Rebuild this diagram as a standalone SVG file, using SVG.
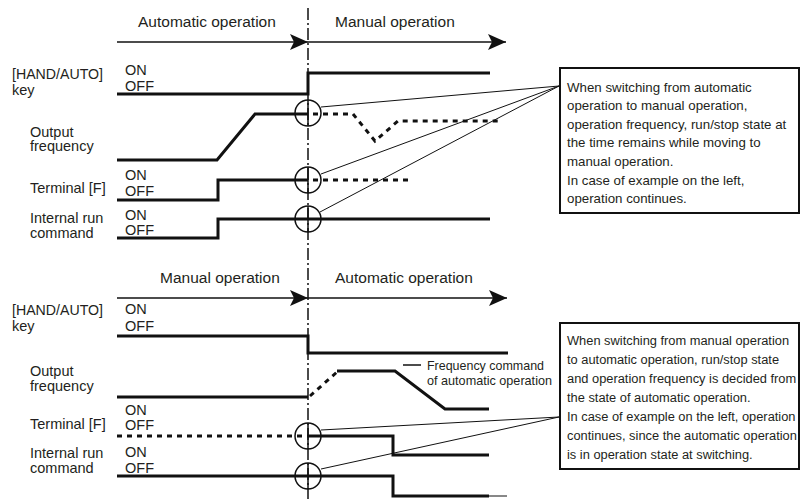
<svg xmlns="http://www.w3.org/2000/svg" width="800" height="499" viewBox="0 0 800 499">
<style>
text{font-family:"Liberation Sans",Arial,sans-serif;fill:#231f20}
.hd{font-size:15.5px}
.lb{font-size:14.5px}
.oo{font-size:14.5px}
.bx{font-size:13.3px}
.bx2{font-size:12.85px}
.fc{font-size:13.5px}
.wave{fill:none;stroke:#111;stroke-width:3;stroke-linejoin:miter}
.dot{fill:none;stroke:#111;stroke-width:3;stroke-dasharray:5 5}
.axis{fill:none;stroke:#111;stroke-width:1.5}
.lead{fill:none;stroke:#111;stroke-width:1}
.circ{fill:none;stroke:#111;stroke-width:1.5}
.box{fill:#fff;stroke:#111;stroke-width:2}
</style>
<defs>
<marker id="ah" markerWidth="20" markerHeight="18" refX="18" refY="8" orient="auto" markerUnits="userSpaceOnUse">
<path d="M0,0 L18,8 L0,16 L4,8 Z" fill="#111"/>
</marker>
</defs>

<!-- vertical switching line -->
<line x1="308" y1="8" x2="308" y2="499" stroke="#111" stroke-width="1.5" stroke-dasharray="12 3 2 3"/>

<!-- top section headings -->
<g id="top-headings">
<text class="hd" x="138" y="27">Automatic operation</text>
<text class="hd" x="335" y="27">Manual operation</text>
</g>
<g id="top-arrow">
<line class="axis" x1="117" y1="42" x2="308" y2="42" marker-end="url(#ah)"/>
<line class="axis" x1="308" y1="42" x2="506" y2="42" marker-end="url(#ah)"/>
</g>

<!-- top labels -->
<g id="top-labels">
<text class="lb" x="12" y="79" textLength="91" lengthAdjust="spacingAndGlyphs">[HAND/AUTO]</text>
<text class="lb" x="12" y="95">key</text>
<text class="oo" x="125" y="75">ON</text>
<text class="oo" x="125" y="90.5">OFF</text>
<text class="lb" x="30" y="136.5">Output</text>
<text class="lb" x="30" y="151">frequency</text>
<text class="lb" x="30" y="193">Terminal [F]</text>
<text class="oo" x="125" y="180">ON</text>
<text class="oo" x="125" y="196">OFF</text>
<text class="lb" x="30" y="223">Internal run</text>
<text class="lb" x="30" y="238">command</text>
<text class="oo" x="125" y="220">ON</text>
<text class="oo" x="125" y="235">OFF</text>
</g>

<!-- top waveforms -->
<g id="top-waves">
<polyline class="wave" points="117,94 308,94 308,73 490,73"/>
<polyline class="wave" points="117,160 217,160 255,114 308,114"/>
<polyline class="dot" points="313,114 353,114 375,141 398,121 498,121"/>
<polyline class="wave" points="117,200 218,200 218,180 308,180"/>
<polyline class="dot" points="313,180 410,180"/>
<polyline class="wave" points="117,238 218,238 218,219 490,219"/>
</g>

<!-- top circles -->
<g id="top-circles">
<circle class="circ" cx="308" cy="113" r="13"/>
<circle class="circ" cx="308" cy="180" r="13"/>
<circle class="circ" cx="308" cy="219" r="13"/>
<line class="axis" x1="308" y1="100" x2="308" y2="126"/>
<line class="axis" x1="308" y1="167" x2="308" y2="193"/>
<line class="axis" x1="308" y1="206" x2="308" y2="232"/>
</g>

<!-- top leaders -->
<g id="top-leaders">
<line class="lead" x1="321" y1="107" x2="559" y2="86"/>
<line class="lead" x1="321" y1="174" x2="559" y2="86"/>
<line class="lead" x1="320" y1="212" x2="559" y2="86"/>
</g>

<!-- top note box -->
<g id="top-note">
<rect class="box" x="560" y="68" width="239" height="145"/>
<text class="bx" x="567" y="91.5">When switching from automatic</text>
<text class="bx" x="567" y="110">operation to manual operation,</text>
<text class="bx" x="567" y="128.7">operation frequency, run/stop state at</text>
<text class="bx" x="567" y="147.3">the time remains while moving to</text>
<text class="bx" x="567" y="166">manual operation.</text>
<text class="bx" x="567" y="184.5">In case of example on the left,</text>
<text class="bx" x="567" y="203">operation continues.</text>
</g>

<!-- bottom section headings -->
<g id="bottom-headings">
<text class="hd" x="160" y="283">Manual operation</text>
<text class="hd" x="335" y="283">Automatic operation</text>
</g>
<g id="bottom-arrow">
<line class="axis" x1="117" y1="298" x2="308" y2="298" marker-end="url(#ah)"/>
<line class="axis" x1="308" y1="298" x2="507" y2="298" marker-end="url(#ah)"/>
</g>

<!-- bottom labels -->
<g id="bottom-labels">
<text class="lb" x="12" y="315" textLength="91" lengthAdjust="spacingAndGlyphs">[HAND/AUTO]</text>
<text class="lb" x="12" y="331">key</text>
<text class="oo" x="125" y="314">ON</text>
<text class="oo" x="125" y="331">OFF</text>
<text class="lb" x="30" y="376">Output</text>
<text class="lb" x="30" y="391">frequency</text>
<text class="lb" x="30" y="429">Terminal [F]</text>
<text class="oo" x="125" y="415">ON</text>
<text class="oo" x="125" y="430">OFF</text>
<text class="lb" x="30" y="458">Internal run</text>
<text class="lb" x="30" y="473">command</text>
<text class="oo" x="125" y="457">ON</text>
<text class="oo" x="125" y="472.5">OFF</text>
</g>

<!-- bottom waveforms -->
<g id="bottom-waves">
<polyline class="wave" points="117,336 308,336 308,353 508,353"/>
<polyline class="wave" points="117,397 308,397"/>
<polyline class="dot" points="310,396 337,372"/>
<polyline class="wave" points="337,371 395,371 445,409 489,409"/>
<polyline class="dot" points="117,436 308,436"/>
<polyline class="wave" points="308,436 393,436 393,455 489,455"/>
<polyline class="wave" points="117,476 393,476 393,496 489,496"/>
<line class="lead" x1="489" y1="496" x2="507" y2="496"/>
</g>

<!-- frequency command annotation -->
<g id="freq-cmd">
<line x1="403" y1="365" x2="421" y2="365" stroke="#111" stroke-width="1.5"/>
<text class="fc" x="427" y="369.5" textLength="117" lengthAdjust="spacingAndGlyphs">Frequency command</text>
<text class="fc" x="427" y="385" textLength="125" lengthAdjust="spacingAndGlyphs">of automatic operation</text>
</g>

<!-- bottom circles -->
<g id="bottom-circles">
<circle class="circ" cx="308" cy="436" r="13"/>
<circle class="circ" cx="308" cy="476" r="13"/>
<line class="axis" x1="308" y1="423" x2="308" y2="449"/>
<line class="axis" x1="308" y1="463" x2="308" y2="489"/>
</g>

<!-- bottom leaders -->
<g id="bottom-leaders">
<line class="lead" x1="321" y1="430" x2="559" y2="417"/>
<line class="lead" x1="321" y1="469" x2="559" y2="417"/>
</g>

<!-- bottom note box -->
<g id="bottom-note">
<rect class="box" x="560" y="323" width="239" height="146"/>
<text class="bx2" x="567" y="345">When switching from manual operation</text>
<text class="bx2" x="567" y="364">to automatic operation, run/stop state</text>
<text class="bx2" x="567" y="383">and operation frequency is decided from</text>
<text class="bx2" x="567" y="402">the state of automatic operation.</text>
<text class="bx2" x="567" y="421">In case of example on the left, operation</text>
<text class="bx2" x="567" y="440">continues, since the automatic operation</text>
<text class="bx2" x="567" y="459">is in operation state at switching.</text>
</g>
</svg>
